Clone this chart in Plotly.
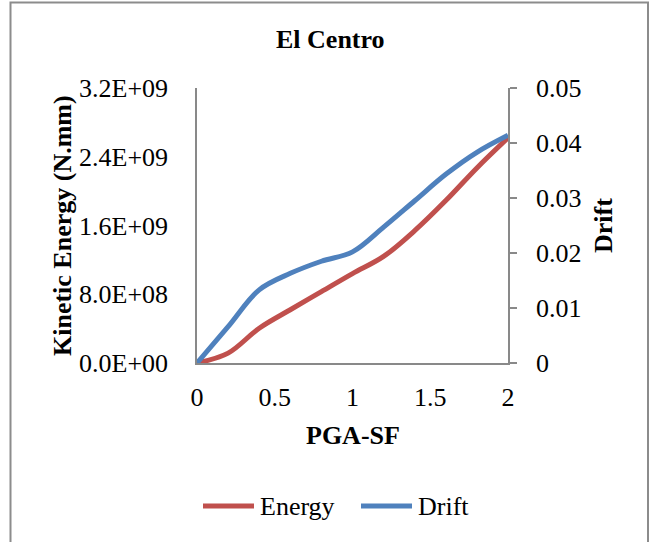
import plotly.graph_objects as go

# ---- data ----
pga_sf = [0, 0.2, 0.4, 0.6, 0.8, 1.0, 1.2, 1.4, 1.6, 1.8, 2.0]
energy = [0, 1.15e8, 4.05e8, 6.2e8, 8.3e8, 1.04e9, 1.24e9, 1.54e9, 1.89e9, 2.27e9, 2.62e9]
drift = [0, 0.0066, 0.0133, 0.0163, 0.0185, 0.0202, 0.0247, 0.0295, 0.0343, 0.0383, 0.0414]

x_ticks = [0, 0.5, 1, 1.5, 2]
x_ticktext = ["0", "0.5", "1", "1.5", "2"]
y1_ticks = [0, 8e8, 1.6e9, 2.4e9, 3.2e9]
y1_ticktext = ["0.0E+00", "8.0E+08", "1.6E+09", "2.4E+09", "3.2E+09"]
y2_ticks = [0, 0.01, 0.02, 0.03, 0.04, 0.05]
y2_ticktext = ["0", "0.01", "0.02", "0.03", "0.04", "0.05"]

RED = "#C0504D"
BLUE = "#4F81BD"
AX = "#898989"
FONT = "Liberation Serif, Times New Roman, serif"

W, H = 652, 542
L, R, T, B = 197, 508, 88, 363
PW, PH = R - L, B - T


def px(x):
    return (x - L) / PW


def py(y):
    return (B - y) / PH


fig = go.Figure()
fig.add_trace(go.Scatter(x=pga_sf, y=energy, name="Energy", mode="lines",
                         line=dict(color=RED, width=5, shape="spline", smoothing=1),
                         yaxis="y", showlegend=False))
fig.add_trace(go.Scatter(x=pga_sf, y=drift, name="Drift", mode="lines",
                         line=dict(color=BLUE, width=5, shape="spline", smoothing=1),
                         yaxis="y2", showlegend=False))

fig.update_layout(
    width=W, height=H,
    margin=dict(l=L, r=W - R, t=T, b=H - B, pad=0),
    paper_bgcolor="white", plot_bgcolor="white",
    font=dict(family=FONT, size=26, color="black"),
    xaxis=dict(range=[0, 2], tickvals=x_ticks, ticktext=x_ticktext,
               showline=True, linecolor=AX, linewidth=1.5, showgrid=False,
               zeroline=False, ticks="", ticklabelstandoff=10,
               tickfont=dict(family=FONT, size=26)),
    yaxis=dict(range=[0, 3.2e9], tickvals=y1_ticks, ticktext=y1_ticktext,
               showline=True, linecolor=AX, linewidth=1.5, showgrid=False,
               zeroline=False, ticks="", ticklabelstandoff=22,
               tickfont=dict(family=FONT, size=26)),
    yaxis2=dict(range=[0, 0.05], tickvals=y2_ticks, ticktext=y2_ticktext,
                overlaying="y", side="right",
                showline=True, linecolor=AX, linewidth=1.5, showgrid=False,
                zeroline=False, ticks="outside", ticklen=7, tickcolor=AX, tickwidth=1.5,
                ticklabelstandoff=14,
                tickfont=dict(family=FONT, size=26)),
    showlegend=False,
)

ann = []
ann.append(dict(text="<b>El Centro</b>", x=px(330), y=py(40), xref="paper", yref="paper",
                showarrow=False, xanchor="center", yanchor="middle", font=dict(size=26)))
ann.append(dict(text="<b>PGA-SF</b>", x=px(353), y=py(435), xref="paper", yref="paper",
                showarrow=False, xanchor="center", yanchor="middle", font=dict(size=26)))
ann.append(dict(text="<b>Kinetic Energy (N.mm)</b>", x=px(62), y=py(226), xref="paper", yref="paper",
                showarrow=False, xanchor="center", yanchor="middle", textangle=-90, font=dict(size=26)))
ann.append(dict(text="<b>Drift</b>", x=px(603), y=py(226), xref="paper", yref="paper",
                showarrow=False, xanchor="center", yanchor="middle", textangle=-90, font=dict(size=26)))
# legend
ann.append(dict(text="Energy", x=px(258), y=py(506), xref="paper", yref="paper",
                showarrow=False, xanchor="left", yanchor="middle", font=dict(size=26)))
ann.append(dict(text="Drift", x=px(416), y=py(506), xref="paper", yref="paper",
                showarrow=False, xanchor="left", yanchor="middle", font=dict(size=26)))

shapes = [
    dict(type="rect", xref="paper", yref="paper", x0=px(10.5), x1=px(648), y0=py(2.5), y1=py(560),
         line=dict(color="#8c8c8c", width=2), fillcolor="rgba(0,0,0,0)", layer="below"),
    dict(type="line", xref="paper", yref="paper", x0=px(203), x1=px(254), y0=py(506), y1=py(506),
         line=dict(color=RED, width=5)),
    dict(type="line", xref="paper", yref="paper", x0=px(361), x1=px(412), y0=py(506), y1=py(506),
         line=dict(color=BLUE, width=5)),
]
fig.update_layout(annotations=ann, shapes=shapes)

fig.write_html("out.html")
